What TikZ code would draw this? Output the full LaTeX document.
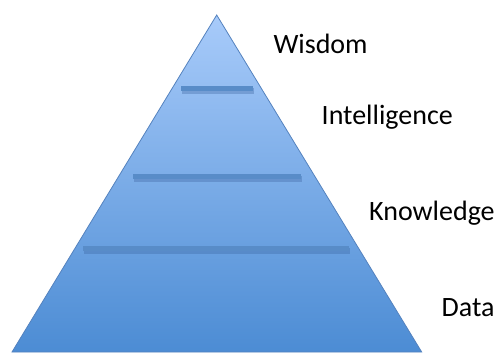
\documentclass[tikz,border=0pt]{standalone}
\usepackage{fontspec}
\setmainfont{Carlito}
\definecolor{ptop}{RGB}{168,203,250}
\definecolor{pbot}{RGB}{76,140,212}
\definecolor{pedge}{RGB}{84,130,190}
\definecolor{barc}{RGB}{88,140,200}
\definecolor{barsh}{RGB}{60,100,160}
\begin{document}
\begin{tikzpicture}[x=1pt,y=-1pt,
  lbl/.style={anchor=base west,inner sep=0pt,font=\fontsize{28}{34}\selectfont},
  barbox/.style={fill=barc,draw=none},
  barshadow/.style={fill=barsh,opacity=0.35,draw=none}]
\useasboundingbox (0,0) rectangle (500,354);
\coordinate (apex) at (216.7,15);
\coordinate (bl) at (12,352);
\coordinate (br) at (421.7,352);
\path[top color=ptop,bottom color=pbot] (apex) -- (br) -- (bl) -- cycle;
\draw[pedge,line width=0.8pt,line join=miter] (apex) -- (br) -- (bl) -- cycle;
% bars
\fill[barshadow] (182,88) rectangle (254,93.5);
\fill[barbox] (181,86) rectangle (253,91);
\fill[barshadow] (134,175.5) rectangle (302,181.5);
\fill[barbox] (133,173.5) rectangle (301,178.5);
\fill[barshadow] (84,248) rectangle (350,254);
\fill[barbox] (83.3,246) rectangle (349.3,251);
% labels
\node[lbl] (w) at (273.3,53.3) {Wisdom};
\node[lbl] (i) at (321.5,124.3) {Intelligence};
\node[lbl] (k) at (369,220) {Knowledge};
\node[lbl] (d) at (441.5,316.7) {Data};
\end{tikzpicture}
\end{document}
